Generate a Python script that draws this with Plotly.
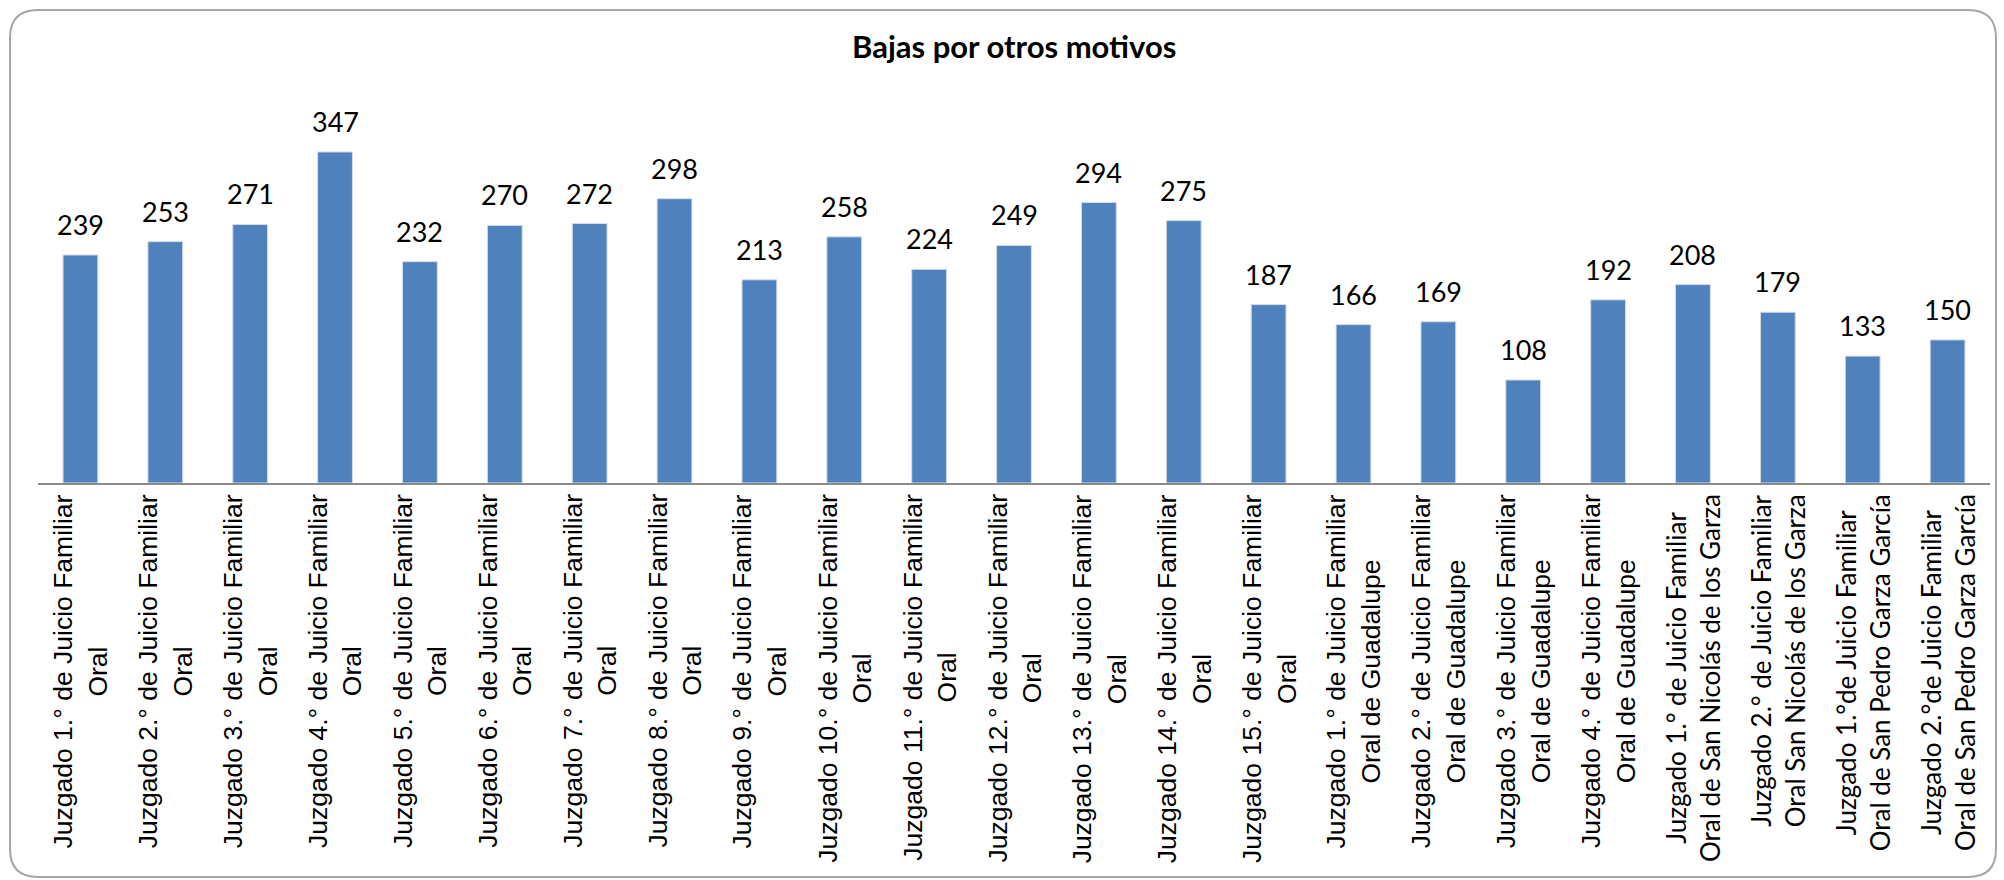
import plotly.graph_objects as go

categories = [
    "Juzgado 1.° de Juicio Familiar<br>Oral",
    "Juzgado 2.° de Juicio Familiar<br>Oral",
    "Juzgado 3.° de Juicio Familiar<br>Oral",
    "Juzgado 4.° de Juicio Familiar<br>Oral",
    "Juzgado 5.° de Juicio Familiar<br>Oral",
    "Juzgado 6.° de Juicio Familiar<br>Oral",
    "Juzgado 7.° de Juicio Familiar<br>Oral",
    "Juzgado 8.° de Juicio Familiar<br>Oral",
    "Juzgado 9.° de Juicio Familiar<br>Oral",
    "Juzgado 10.° de Juicio Familiar<br>Oral",
    "Juzgado 11.° de Juicio Familiar<br>Oral",
    "Juzgado 12.° de Juicio Familiar<br>Oral",
    "Juzgado 13.° de Juicio Familiar<br>Oral",
    "Juzgado 14.° de Juicio Familiar<br>Oral",
    "Juzgado 15.° de Juicio Familiar<br>Oral",
    "Juzgado 1.° de Juicio Familiar<br>Oral de Guadalupe",
    "Juzgado 2.° de Juicio Familiar<br>Oral de Guadalupe",
    "Juzgado 3.° de Juicio Familiar<br>Oral de Guadalupe",
    "Juzgado 4.° de Juicio Familiar<br>Oral de Guadalupe",
    "Juzgado 1.° de Juicio Familiar<br>Oral de San Nicolás de los Garza",
    "Juzgado 2.° de Juicio Familiar<br>Oral San Nicolás de los Garza",
    "Juzgado 1.°de Juicio Familiar<br>Oral de San Pedro Garza García",
    "Juzgado 2.°de Juicio Familiar<br>Oral de San Pedro Garza García",
]
values = [239, 253, 271, 347, 232, 270, 272, 298, 213, 258, 224, 249,
          294, 275, 187, 166, 169, 108, 192, 208, 179, 133, 150]
title_text = "Bajas por otros motivos"

W, H = 2004, 880
ML, MR, MT, MB = 38, 14, 91, 397
PW = W - ML - MR
PH = H - MT - MB
YMAX = PH / 0.954

fig = go.Figure()
fig.add_trace(go.Bar(
    x=list(range(len(categories))),
    y=values,
    marker=dict(color="#4F81BD", line=dict(color="#D5DCE6", width=1)),
    width=0.41,
    hoverinfo="skip",
))

annotations = []
# data labels
for i, v in enumerate(values):
    annotations.append(dict(
        x=i, y=v, xref="x", yref="y", text=str(v), showarrow=False,
        xanchor="center", yanchor="bottom", yshift=12,
        font=dict(family="Liberation Sans Narrow, Lato, sans-serif", size=27, color="#000000"),
    ))
# category labels (rotated, centered lines)
for i, c in enumerate(categories):
    if i < 19:
        fam, sz = "Liberation Sans, Arial, sans-serif", 26.5
    else:
        fam, sz = "Lato, Liberation Sans Narrow, sans-serif", 26
    annotations.append(dict(
        x=i, y=0, xref="x", yref="paper", text=c, showarrow=False,
        textangle=-90, align="center", xanchor="center", yanchor="top",
        yshift=-9,
        font=dict(family=fam, size=sz, color="#000000"),
    ))
# title
annotations.append(dict(
    x=0.5, y=(H - 46 - MB) / PH, xref="paper", yref="paper",
    text="<b>" + title_text + "</b>", showarrow=False,
    xanchor="center", yanchor="middle",
    font=dict(family="Lato, sans-serif", size=31, color="#000000"),
))

# rounded border in pixel coordinates converted to paper
def px(xp):
    return (xp - ML) / PW

def py(yp):
    return (H - MB - yp) / PH

x0, y0, x1, y1, r = 10, 10, 1996, 877, 28
path = (
    f"M {px(x0 + r)} {py(y0)} L {px(x1 - r)} {py(y0)} "
    f"Q {px(x1)} {py(y0)} {px(x1)} {py(y0 + r)} "
    f"L {px(x1)} {py(y1 - r)} "
    f"Q {px(x1)} {py(y1)} {px(x1 - r)} {py(y1)} "
    f"L {px(x0 + r)} {py(y1)} "
    f"Q {px(x0)} {py(y1)} {px(x0)} {py(y1 - r)} "
    f"L {px(x0)} {py(y0 + r)} "
    f"Q {px(x0)} {py(y0)} {px(x0 + r)} {py(y0)} Z"
)

fig.update_layout(
    width=W, height=H,
    margin=dict(l=ML, r=MR, t=MT, b=MB, pad=0),
    paper_bgcolor="white", plot_bgcolor="white",
    showlegend=False,
    annotations=annotations,
    shapes=[dict(type="path", path=path, xref="paper", yref="paper",
                 line=dict(color="#A6A6A6", width=2), fillcolor="rgba(0,0,0,0)",
                 layer="below")],
    xaxis=dict(range=[-0.5, len(categories) - 0.5], showticklabels=False,
               ticks="", showgrid=False, zeroline=False,
               showline=True, linecolor="#8C8C8C", linewidth=2),
    yaxis=dict(range=[0, YMAX], visible=False, showgrid=False, zeroline=False),
)

fig.write_html("out.html", config={"displayModeBar": False},
               post_script="document.body.style.margin='0px';")
